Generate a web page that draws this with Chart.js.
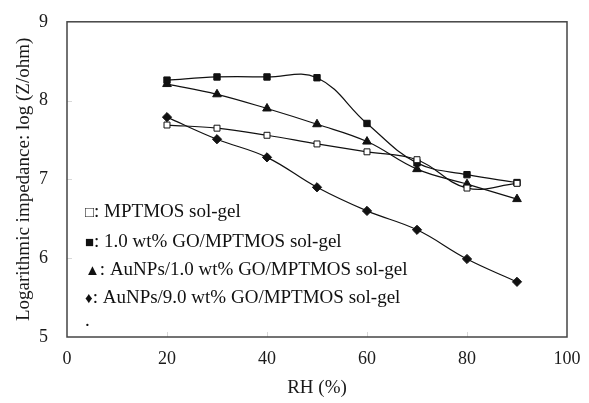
<!DOCTYPE html>
<html><head><meta charset="utf-8">
<script src="https://cdn.jsdelivr.net/npm/chart.js@4"></script>
<style>html,body{margin:0;padding:0;background:#fff}#w{width:589px;height:403px}</style>
</head><body><div id="w"><canvas id="c" width="589" height="403"></canvas></div>
<script>
const rh = [20, 30, 40, 50, 60, 70, 80, 90];
const mptmos = [7.69, 7.65, 7.56, 7.45, 7.35, 7.25, 6.89, 6.95];
const go1 = [8.26, 8.30, 8.30, 8.29, 7.71, 7.21, 7.06, 6.96];
const au_go1 = [8.21, 8.08, 7.90, 7.70, 7.48, 7.13, 6.94, 6.75];
const au_go9 = [7.79, 7.51, 7.28, 6.90, 6.60, 6.36, 5.99, 5.70];
const legendSymbols = ["\u25A1", "\u25A0", "\u25B2", "\u2666", ""];
const legendLabels = [": MPTMOS sol-gel", ": 1.0 wt% GO/MPTMOS sol-gel", ": AuNPs/1.0 wt% GO/MPTMOS sol-gel", ": AuNPs/9.0 wt% GO/MPTMOS sol-gel", "."];
const xTicks = [0, 20, 40, 60, 80, 100];
const yTicks = [5, 6, 7, 8, 9];

const pts = ys => rh.map((x, i) => ({x, y: ys[i]}));
const FONT = "'Liberation Serif', 'Times New Roman', serif";
const ds = (data, style, fill, r) => ({
  data: pts(data), borderColor: '#111', borderWidth: 1.2, pointStyle: style,
  pointBackgroundColor: fill, pointBorderColor: '#111', pointBorderWidth: 1,
  pointRadius: r, tension: 0.4, fill: false
});

const frame = {
  id: 'frame',
  afterDatasetsDraw(chart) {
    const {ctx, chartArea: a, scales} = chart;
    ctx.save();
    ctx.strokeStyle = '#d8d8d8'; ctx.lineWidth = 1;
    xTicks.slice(1, -1).forEach(v => { const x = Math.round(scales.x.getPixelForValue(v)) + 0.5;
      ctx.beginPath(); ctx.moveTo(x, a.bottom); ctx.lineTo(x, a.bottom - 5); ctx.stroke(); });
    yTicks.slice(1, -1).forEach(v => { const y = Math.round(scales.y.getPixelForValue(v)) + 0.5;
      ctx.beginPath(); ctx.moveTo(a.left, y); ctx.lineTo(a.left + 5, y); ctx.stroke(); });
    ctx.strokeStyle = '#444'; ctx.lineWidth = 1.5;
    ctx.strokeRect(a.left, a.top, a.right - a.left, a.bottom - a.top);
    ctx.fillStyle = '#111'; ctx.textBaseline = 'middle'; ctx.textAlign = 'left';
    const ys = [212, 242, 270, 298, 321];
    legendLabels.forEach((t, i) => {
      let x = a.left + 18;
      if (legendSymbols[i]) {
        ctx.font = '15px ' + FONT;
        ctx.fillText(legendSymbols[i], x, ys[i] + 1);
        x += ctx.measureText(legendSymbols[i]).width;
      }
      ctx.font = '19px ' + FONT;
      ctx.fillText(t, x, ys[i]);
    });
    ctx.restore();
  }
};

new Chart(document.getElementById('c'), {
  type: 'line',
  data: { datasets: [
    ds(mptmos, 'rect', '#fff', 4.2),
    ds(go1, 'rect', '#111', 4.5),
    ds(au_go1, 'triangle', '#111', 5),
    ds(au_go9, 'rectRot', '#111', 4.6)
  ]},
  options: {
    responsive: false, animation: false, devicePixelRatio: 1,
    layout: { padding: { top: 17, right: 22, left: 0, bottom: 0 } },
    plugins: { legend: { display: false }, tooltip: { enabled: false } },
    scales: {
      x: { type: 'linear', min: 0, max: 100,
        afterFit: s => { s.height = 66; },
        afterBuildTicks: s => { s.ticks = xTicks.map(v => ({value: v})); },
        grid: { display: false }, border: { display: false },
        ticks: { color: '#1a1a1a', font: { family: FONT, size: 18 }, padding: 3, maxRotation: 0 },
        title: { display: true, text: 'RH (%)', color: '#1a1a1a', font: { family: FONT, size: 19 }, padding: { top: 4 } } },
      y: { min: 5, max: 9,
        afterFit: s => { s.width = 67; },
        afterBuildTicks: s => { s.ticks = yTicks.map(v => ({value: v})); },
        grid: { display: false }, border: { display: false },
        ticks: { color: '#1a1a1a', font: { family: FONT, size: 18 }, padding: 11 },
        title: { display: true, text: 'Logarithmic impedance: log (Z/ohm)', color: '#1a1a1a', font: { family: FONT, size: 19 }, padding: { top: 13, bottom: 4 } } }
    }
  },
  plugins: [frame]
});
</script></body></html>
